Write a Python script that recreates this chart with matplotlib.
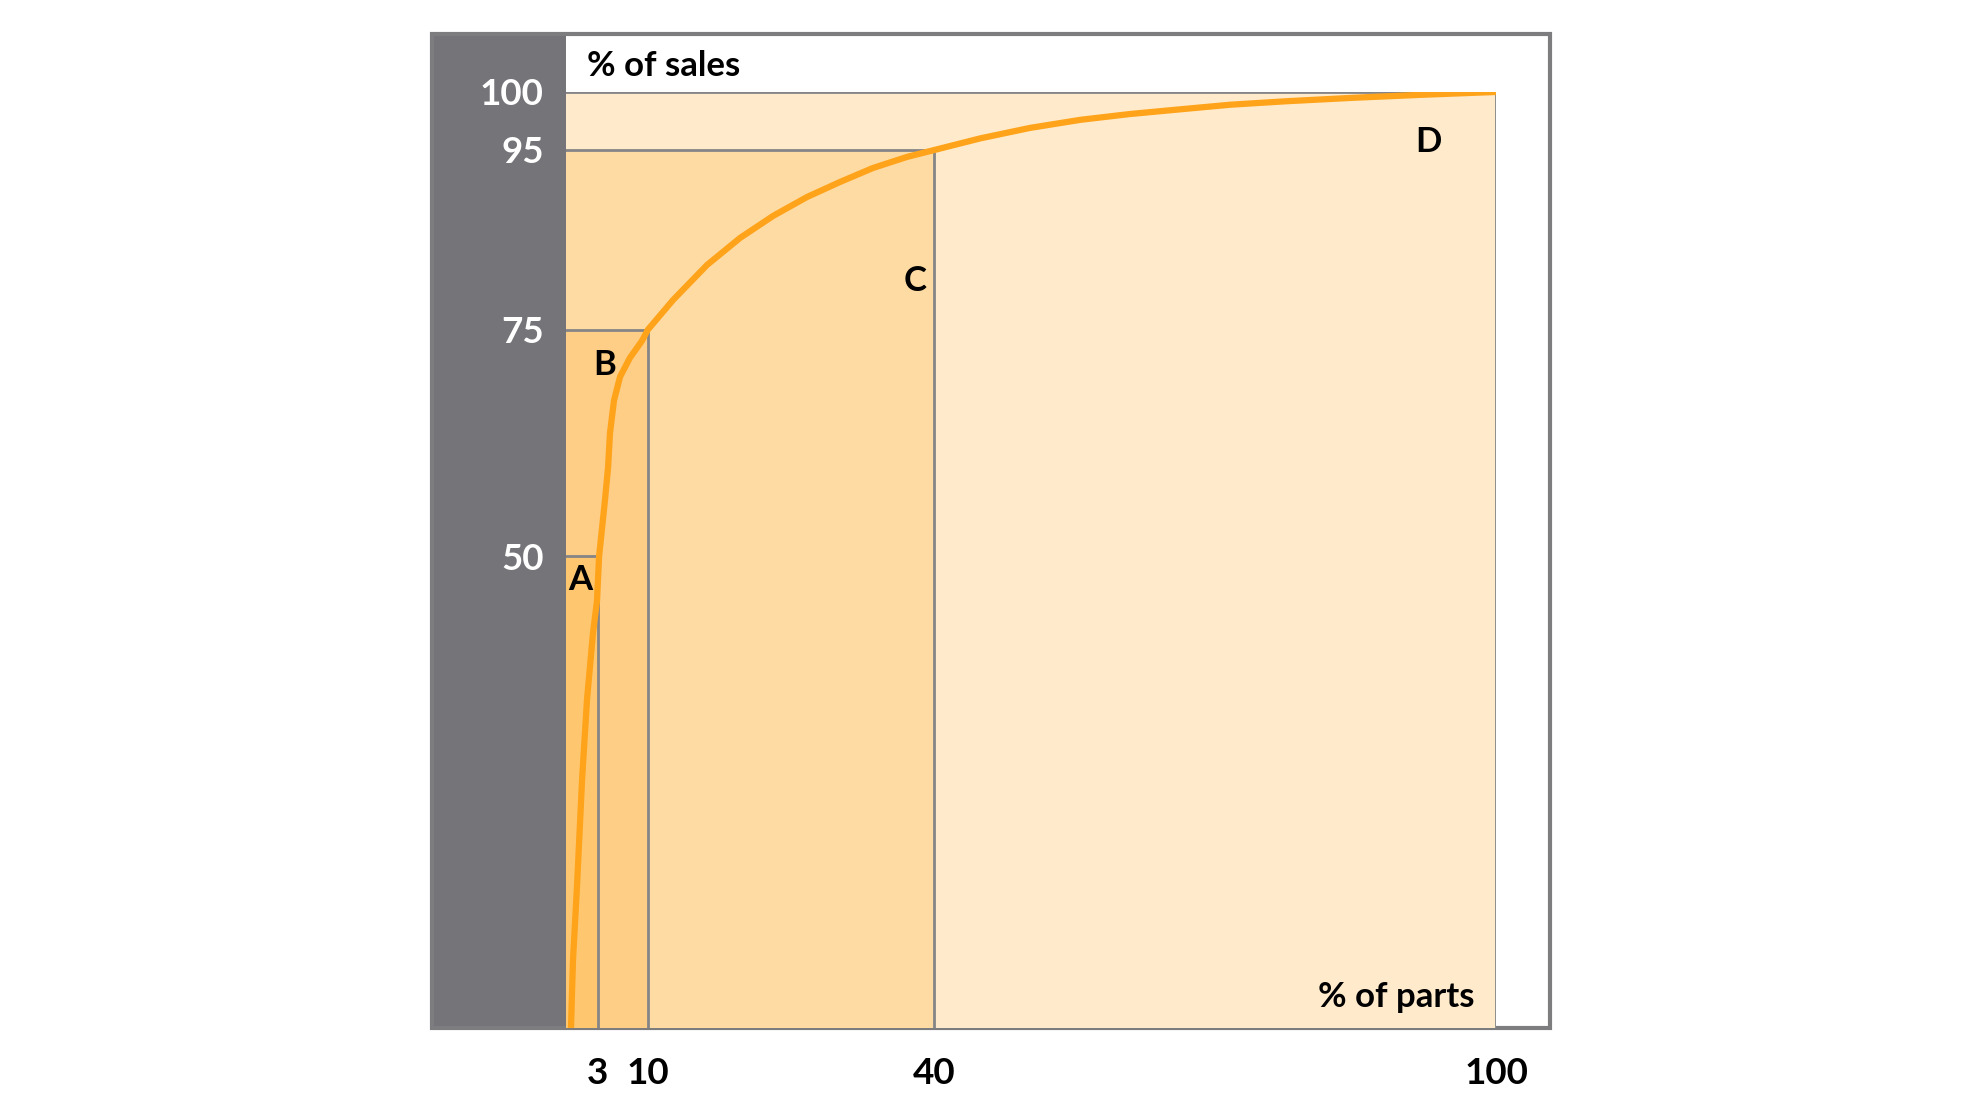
import matplotlib
matplotlib.use("Agg")
import matplotlib.pyplot as plt
import numpy as np
from matplotlib.patches import Rectangle

plt.rcParams['font.family'] = ['Lato', 'DejaVu Sans']
plt.rcParams['font.weight'] = 'bold'

# class limits (% of parts, % of sales)
class_names = ['A', 'B', 'C', 'D']
parts_limits = [3, 10, 40, 100]
sales_limits = [50, 75, 95, 100]
class_colors = ['#fec76f', '#fecd86', '#fedba3', '#ffebcc']

# cumulative curve
curve_parts = [0.47, 0.66, 1.04, 1.52, 1.99, 2.56, 2.94, 3.2, 4.02, 4.45, 4.72, 5.28, 6.12,
               7.5, 9.2, 10, 12.64, 16.2, 19.65, 23.11, 26.67, 30.12, 33.58, 37.14, 40,
               44.9, 50.2, 55.6, 60.9, 66.2, 71.6, 77.6, 84.8, 91.9, 100]
curve_sales = [0, 7.2, 15.0, 26.3, 34.8, 41.9, 45.3, 50, 56.2, 59.8, 63.6, 67.2, 69.8,
               71.9, 73.8, 75, 78.31, 82.21, 85.21, 87.66, 89.77, 91.44, 93.0, 94.23, 95,
               96.0, 96.9, 97.6, 98.1, 98.5, 98.9, 99.2, 99.5, 99.75, 100]

# the drawing is not quite to scale, so stretch the axes a bit
x_data = [-100, 0, 3, 10, 40, 100, 200]
x_pos = [-100, 0, 3.4, 8.8, 39.6, 100, 200]
y_data = [-100, 0, 50, 75, 95, 100, 200]
y_pos = [-100, 0, 50.4, 74.6, 93.8, 100, 200]

fig = plt.figure(figsize=(19.84, 11.16), dpi=100)

# outer frame with the dark panel on the left
fig.patches.append(Rectangle((0.2177, 0.0785), 0.0676, 0.891, transform=fig.transFigure,
                             facecolor='#757479', edgecolor='none', zorder=-2))
fig.patches.append(Rectangle((0.2177, 0.0785), 0.5635, 0.891, transform=fig.transFigure,
                             facecolor='none', edgecolor='#7d7d80', linewidth=3, zorder=-1))

ax = fig.add_axes([0.2853, 0.0789, 0.4688, 0.8387])
ax.patch.set_alpha(0)
ax.set_xscale('function', functions=(lambda v: np.interp(v, x_data, x_pos),
                                     lambda v: np.interp(v, x_pos, x_data)))
ax.set_yscale('function', functions=(lambda v: np.interp(v, y_data, y_pos),
                                     lambda v: np.interp(v, y_pos, y_data)))

# nested class areas, biggest first
for px, sy, col in reversed(list(zip(parts_limits, sales_limits, class_colors))):
    ax.fill_between([0, px], 0, sy, color=col, linewidth=0, zorder=1)
    ax.plot([0, px, px], [sy, sy, 0], color='#858587', linewidth=2.0, zorder=2)

ax.plot(curve_parts, curve_sales, color='#ffa31a', linewidth=4.5, solid_capstyle='butt',
        solid_joinstyle='round', zorder=3)

ax.set_xlim(0, 100)
ax.set_ylim(0, 100)
for s in ax.spines.values():
    s.set_visible(False)

ax.set_xticks(parts_limits)
ax.set_xticklabels([str(v) for v in parts_limits], fontsize=26.5, fontweight='bold', color='black')
ax.set_yticks(sales_limits)
ax.set_yticklabels([str(v) for v in sales_limits], fontsize=26.5, fontweight='bold', color='white')
ax.tick_params(axis='x', length=0, pad=21)
ax.tick_params(axis='y', length=0, pad=16)

# class letters
letter_pos = [(0.015, 0.479), (0.042, 0.708), (0.375, 0.798), (0.927, 0.947)]
for name, (lx, ly) in zip(class_names, letter_pos):
    ax.text(lx, ly, name, transform=ax.transAxes, ha='center', va='center',
            fontsize=25, fontweight='bold', zorder=4)

ax.text(0.0226, 1.028, '% of sales', transform=ax.transAxes, ha='left', va='center',
        fontsize=25, fontweight='bold', clip_on=False)
ax.text(0.977, 0.033, '% of parts', transform=ax.transAxes, ha='right', va='center',
        fontsize=25, fontweight='bold', zorder=4)

fig.savefig('out.png', dpi=100, facecolor='white')
